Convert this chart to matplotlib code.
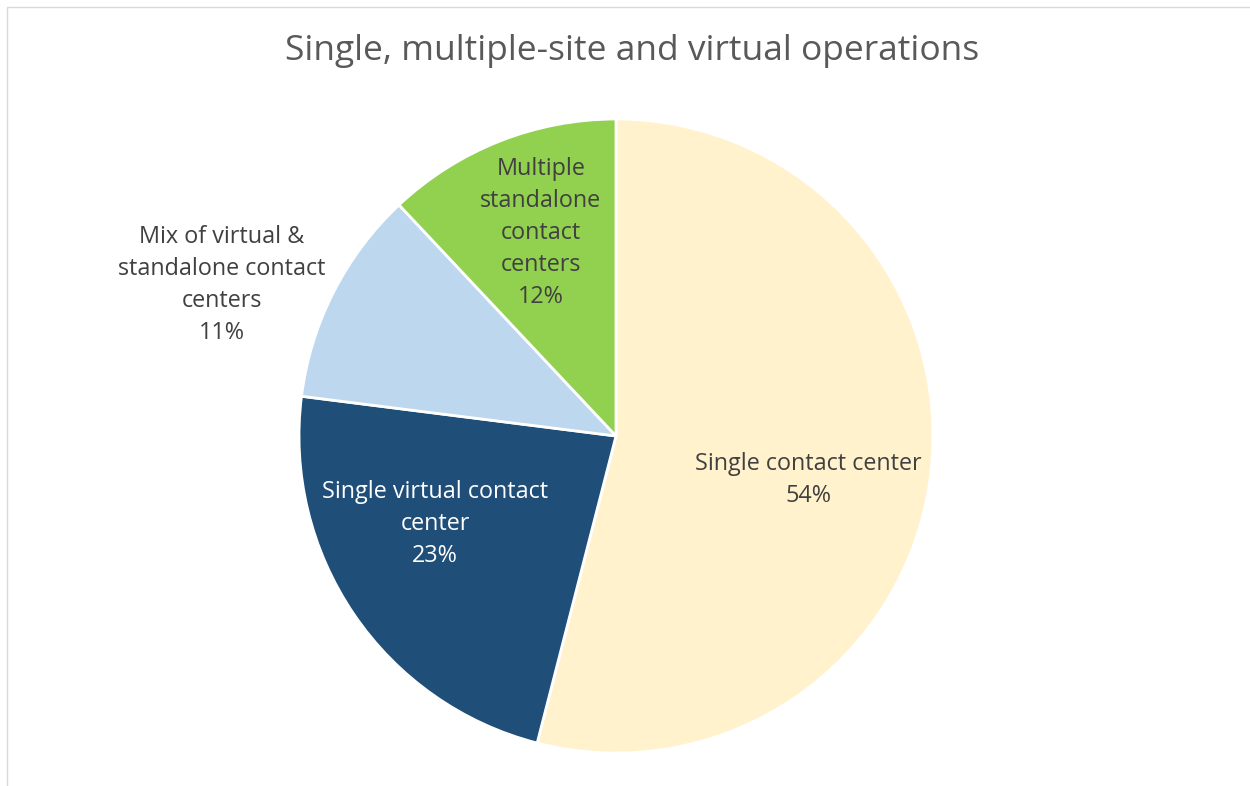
import matplotlib.pyplot as plt
from matplotlib.patches import Rectangle

# data
labels = ["Single contact center", "Single virtual contact\ncenter",
          "Mix of virtual &\nstandalone contact\ncenters", "Multiple\nstandalone\ncontact\ncenters"]
shares = [54, 23, 11, 12]
colors = ["#FFF2CC", "#1F4E79", "#BDD7EE", "#92D050"]
text_colors = ["#404040", "white", "#404040", "#404040"]
# label positions in radius units (x, y)
label_pos = [(0.606, -0.139), (-0.571, -0.278), (-1.243, 0.476), (-0.237, 0.640)]

plt.rcParams['font.family'] = ['Open Sans', 'DejaVu Sans']

fig = plt.figure(figsize=(12.5, 7.86), dpi=100)
cx, cy, r = 616, 436, 317
ax = fig.add_axes([(cx - r) / 1250, (786 - cy - r) / 786, 2 * r / 1250, 2 * r / 786])

ax.pie(shares, colors=colors, startangle=90, counterclock=False, radius=1,
       wedgeprops=dict(edgecolor='white', linewidth=2))
ax.set_xlim(-1, 1)
ax.set_ylim(-1, 1)
ax.set_aspect('equal')

for lab, val, (x, y), tc in zip(labels, shares, label_pos, text_colors):
    ax.text(x, y, f"{lab}\n{val}%", ha='center', va='center', color=tc,
            fontsize=16.8, linespacing=1.45, clip_on=False)

fig.text(0.5056, 1 - 51 / 786, "Single, multiple-site and virtual operations",
         ha='center', va='center', fontsize=25.5, color='#595959')

# light chart frame
fig.patches.append(Rectangle((7 / 1250, -0.1), 1.2, 1.1 - 7 / 786, transform=fig.transFigure,
                             fill=False, edgecolor='#D9D9D9', linewidth=1))

fig.savefig("out.png", dpi=100)
